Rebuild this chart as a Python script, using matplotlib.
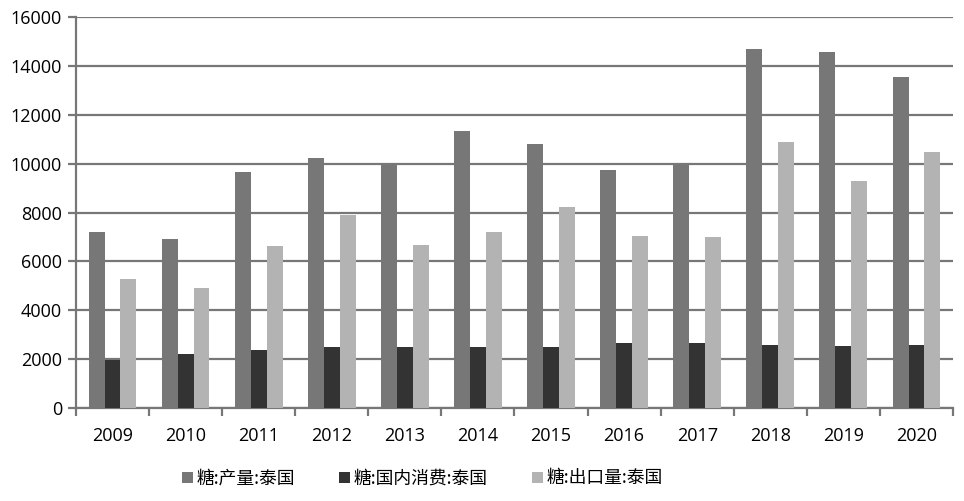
import numpy as np
import matplotlib.pyplot as plt

# 数据：泰国糖 产量 / 国内消费 / 出口量
years = ["2009", "2010", "2011", "2012", "2013", "2014",
         "2015", "2016", "2017", "2018", "2019", "2020"]
production = [7200, 6920, 9660, 10230, 10000, 11330, 10800, 9740, 10000, 14690, 14570, 13550]
consumption = [1980, 2210, 2370, 2500, 2500, 2500, 2500, 2660, 2660, 2580, 2540, 2580]
exports = [5280, 4910, 6630, 7900, 6670, 7200, 8230, 7040, 7000, 10890, 9290, 10480]

labels = ["糖:产量:泰国", "糖:国内消费:泰国", "糖:出口量:泰国"]
colors = ["#777777", "#333333", "#b3b3b3"]

plt.rcParams["font.family"] = ["Open Sans", "DejaVu Sans"]

fig = plt.figure(figsize=(9.64, 5.01), dpi=100)
ax = fig.add_axes([0.0788, 0.1856, 0.9098, 0.7804])

x = np.arange(len(years))
w = 0.218
for i, (vals, lab, col) in enumerate(zip([production, consumption, exports], labels, colors)):
    ax.bar(x + (i - 1) * w, vals, width=w, color=col, label=lab, zorder=3)

ax.set_xlim(-0.5, len(years) - 0.5)
ax.set_ylim(0, 16000)
ax.set_yticks(np.arange(0, 16001, 2000))
ax.yaxis.grid(True, color="#777777", linewidth=1.6, zorder=0)

ax.set_xticks(x)
ax.set_xticklabels(years)
ax.set_xticks(np.arange(-0.5, len(years), 1), minor=True)
ax.tick_params(axis="x", which="major", length=0, labelsize=13, pad=14)
ax.tick_params(axis="x", which="minor", length=6, width=1.6, color="#777777")
ax.tick_params(axis="y", length=6, width=1.6, color="#777777", labelsize=13, pad=4)

for s in ["top", "right"]:
    ax.spines[s].set_visible(False)
for s in ["left", "bottom"]:
    ax.spines[s].set_color("#777777")
    ax.spines[s].set_linewidth(1.6)

leg = fig.legend(loc="center", bbox_to_anchor=(0.438, 0.045), ncol=3, frameon=False,
                 prop={"family": ["Noto Sans CJK SC", "DejaVu Sans"], "size": 12.8},
                 handlelength=0.6, handleheight=0.6, handletextpad=0.2, columnspacing=2.5)

fig.savefig("out.png", dpi=100)
